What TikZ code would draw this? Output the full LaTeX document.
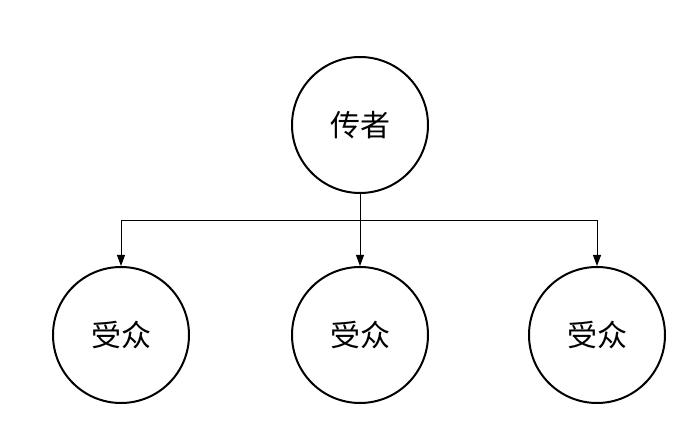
\documentclass[tikz,border=0pt]{standalone}
\usepackage{fontspec}
\newfontfamily\cjk{Noto Sans CJK SC}
\usetikzlibrary{arrows.meta}
\begin{document}
\begin{tikzpicture}[x=1pt,y=-1pt,
  person/.style={circle,draw,line width=2pt,minimum size=136pt,inner sep=0pt,font=\cjk\fontsize{30}{32}\selectfont},
  link/.style={line width=0.9pt,-{Triangle[length=11pt,width=8pt]}}]
\useasboundingbox (0,0) rectangle (681,435);
\node[person] (s) at (360,125) {传者};
\node[person] (a) at (121,335) {受众};
\node[person] (b) at (360,335) {受众};
\node[person] (c) at (597,335) {受众};
\coordinate (j) at (360,220);
\draw[line width=0.9pt] (s.south) -- (j);
\draw[link] (j) -| (a.north);
\draw[link] (j) -- (b.north);
\draw[link] (j) -| (c.north);
\end{tikzpicture}
\end{document}
